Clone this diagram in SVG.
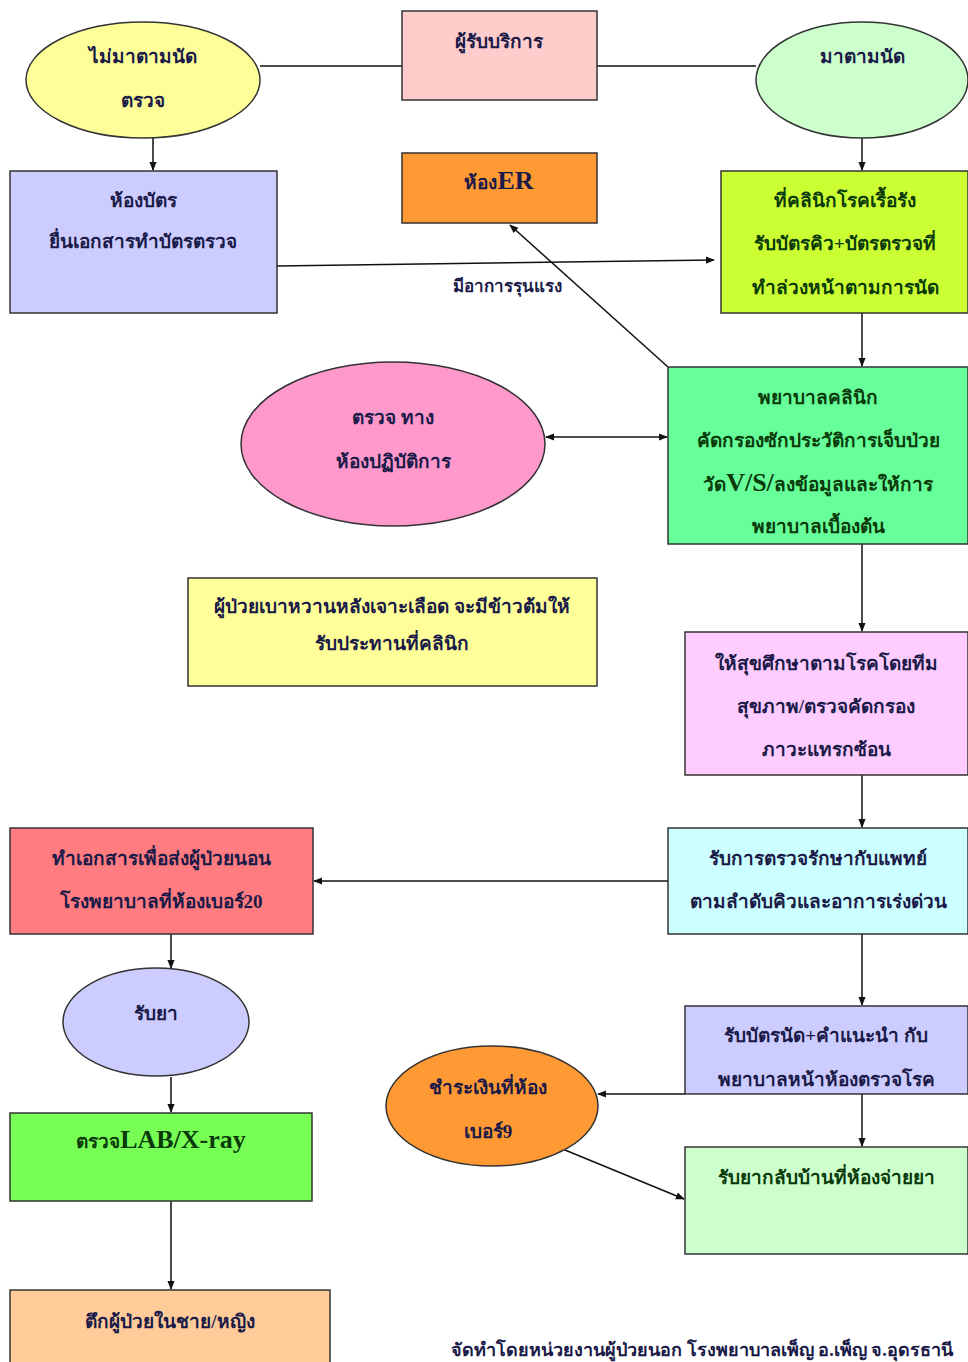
<svg xmlns="http://www.w3.org/2000/svg" width="968" height="1362" viewBox="0 0 968 1362">
<defs>
<marker id="ah" viewBox="0 0 10 10" refX="9" refY="5" markerWidth="9" markerHeight="9" markerUnits="userSpaceOnUse" orient="auto-start-reverse">
<path d="M0,1 L10,5 L0,9 z" fill="#111"/>
</marker>
<style>
.n{stroke:#333;stroke-width:1.5}
.t{font-family:"Liberation Serif","Noto Sans",serif;font-weight:bold;font-size:19px;fill:#1a1a48;text-anchor:middle}
.g{fill:#0a3a0a}
.c{stroke:#111;stroke-width:1.5;fill:none}
.a{marker-end:url(#ah)}
.b{font-family:"Liberation Serif",serif;font-weight:bold;font-size:26px}
</style>
</defs>
<rect width="968" height="1362" fill="#fff"/>
<g id="connectors">
<line class="c" x1="260" y1="66" x2="402" y2="66"/>
<line class="c" x1="597" y1="66" x2="756" y2="66"/>
<line class="c a" x1="153" y1="138" x2="153" y2="170"/>
<line class="c a" x1="862" y1="138" x2="862" y2="170"/>
<line class="c a" x1="277" y1="266" x2="714" y2="260"/>
<line class="c a" x1="668" y1="367" x2="510" y2="225"/>
<line class="c a" x1="862" y1="313" x2="862" y2="366"/>
<line class="c a" x1="546" y1="437" x2="667" y2="437" marker-start="url(#ah)"/>
<line class="c a" x1="862" y1="544" x2="862" y2="631"/>
<line class="c a" x1="862" y1="775" x2="862" y2="827"/>
<line class="c a" x1="668" y1="881" x2="314" y2="881"/>
<line class="c a" x1="171" y1="934" x2="171" y2="968"/>
<line class="c a" x1="171" y1="1077" x2="171" y2="1112"/>
<line class="c a" x1="171" y1="1201" x2="171" y2="1289"/>
<line class="c a" x1="862" y1="934" x2="862" y2="1005"/>
<line class="c a" x1="685" y1="1094" x2="598" y2="1094"/>
<line class="c a" x1="862" y1="1094" x2="862" y2="1146"/>
<line class="c a" x1="565" y1="1150" x2="684" y2="1199"/>
</g>
<g id="n-notappt"><ellipse class="n" cx="143" cy="80" rx="117" ry="58" fill="#ffff99"/><text class="t" x="143" y="63">ไม่มาตามนัด</text><text class="t" x="143" y="107">ตรวจ</text></g>
<g id="n-client"><rect class="n" x="402" y="11" width="195" height="89" fill="#ffcccc"/><text class="t" x="499" y="48">ผู้รับบริการ</text></g>
<g id="n-appt"><ellipse class="n" cx="862" cy="80" rx="106" ry="58" fill="#ccffcc"/><text class="t" x="862" y="63">มาตามนัด</text></g>
<g id="n-card"><rect class="n" x="10" y="171" width="267" height="142" fill="#ccccff"/><text class="t" x="143" y="207">ห้องบัตร</text><text class="t" x="143" y="248">ยื่นเอกสารทำบัตรตรวจ</text></g>
<g id="n-er"><rect class="n" x="402" y="153" width="195" height="70" fill="#ff9933"/><text class="t" x="499" y="189">ห้อง<tspan class="b">ER</tspan></text></g>
<g id="n-chronic"><rect class="n" x="721" y="171" width="247" height="142" fill="#ccff33"/><text class="t g" x="845" y="207">ที่คลินิกโรคเรื้อรัง</text><text class="t g" x="845" y="250">รับบัตรคิว+บัตรตรวจที่</text><text class="t g" x="845" y="294">ทำล่วงหน้าตามการนัด</text></g>
<text class="t" x="507" y="292" style="font-size:17px">มีอาการรุนแรง</text>
<g id="n-lab"><ellipse class="n" cx="393" cy="444" rx="152" ry="82" fill="#ff99cc"/><text class="t" x="393" y="424">ตรวจ ทาง</text><text class="t" x="393" y="468">ห้องปฏิบัติการ</text></g>
<g id="n-nurse"><rect class="n" x="668" y="367" width="300" height="177" fill="#66ff99"/><text class="t g" x="818" y="404">พยาบาลคลินิก</text><text class="t g" x="818" y="447">คัดกรองซักประวัติการเจ็บป่วย</text><text class="t g" x="818" y="491">วัด<tspan class="b">V/S/</tspan>ลงข้อมูลและให้การ</text><text class="t g" x="818" y="533">พยาบาลเบื้องต้น</text></g>
<g id="n-note"><rect class="n" x="188" y="578" width="409" height="108" fill="#ffff99"/><text class="t" x="392" y="613">ผู้ป่วยเบาหวานหลังเจาะเลือด  จะมีข้าวต้มให้</text><text class="t" x="392" y="650">รับประทานที่คลินิก</text></g>
<g id="n-edu"><rect class="n" x="685" y="632" width="283" height="143" fill="#ffccff"/><text class="t" x="826" y="670">ให้สุขศึกษาตามโรคโดยทีม</text><text class="t" x="826" y="713">สุขภาพ/ตรวจคัดกรอง</text><text class="t" x="826" y="756">ภาวะแทรกซ้อน</text></g>
<g id="n-doctor"><rect class="n" x="668" y="828" width="300" height="106" fill="#ccffff"/><text class="t" x="818" y="865">รับการตรวจรักษากับแพทย์</text><text class="t" x="818" y="908">ตามลำดับคิวและอาการเร่งด่วน</text></g>
<g id="n-admit"><rect class="n" x="10" y="828" width="303" height="106" fill="#ff7c80"/><text class="t" x="161" y="865">ทำเอกสารเพื่อส่งผู้ป่วยนอน</text><text class="t" x="161" y="908">โรงพยาบาลที่ห้องเบอร์20</text></g>
<g id="n-drug"><ellipse class="n" cx="156" cy="1022" rx="93" ry="54" fill="#ccccff"/><text class="t" x="156" y="1020">รับยา</text></g>
<g id="n-labx"><rect class="n" x="10" y="1113" width="302" height="88" fill="#77ff55"/><text class="t g" x="161" y="1148">ตรวจ<tspan class="b">LAB/X-ray</tspan></text></g>
<g id="n-ward"><rect class="n" x="10" y="1290" width="320" height="74" fill="#ffcc99"/><text class="t" x="170" y="1328">ตึกผู้ป่วยในชาย/หญิง</text></g>
<g id="n-appoint"><rect class="n" x="685" y="1006" width="283" height="88" fill="#ccccff"/><text class="t" x="826" y="1042">รับบัตรนัด+คำแนะนำ  กับ</text><text class="t" x="826" y="1086">พยาบาลหน้าห้องตรวจโรค</text></g>
<g id="n-pay"><ellipse class="n" cx="492" cy="1106" rx="106" ry="60" fill="#ff9933"/><text class="t" x="488" y="1094">ชำระเงินที่ห้อง</text><text class="t" x="488" y="1138">เบอร์9</text></g>
<g id="n-home"><rect class="n" x="685" y="1147" width="283" height="107" fill="#ccffcc"/><text class="t g" x="826" y="1184">รับยากลับบ้านที่ห้องจ่ายยา</text></g>
<text class="t" x="702" y="1356" style="font-size:18px">จัดทำโดยหน่วยงานผู้ป่วยนอก โรงพยาบาลเพ็ญ  อ.เพ็ญ  จ.อุดรธานี</text>
</svg>
